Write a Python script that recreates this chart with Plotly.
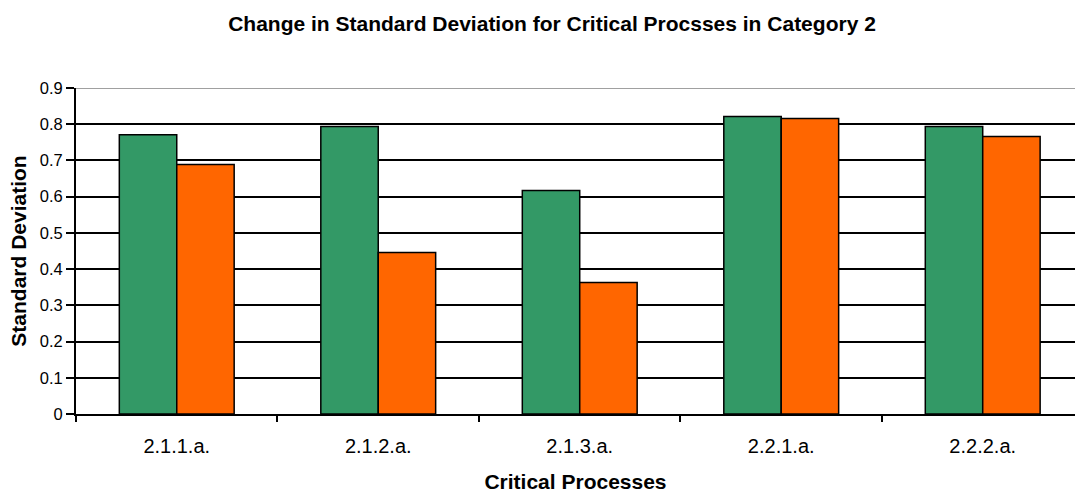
import plotly.graph_objects as go

categories = ["2.1.1.a.", "2.1.2.a.", "2.1.3.a.", "2.2.1.a.", "2.2.2.a."]
before_sd = [0.771, 0.794, 0.617, 0.821, 0.794]
after_sd = [0.689, 0.446, 0.363, 0.816, 0.766]
y_ticks = [0, 0.1, 0.2, 0.3, 0.4, 0.5, 0.6, 0.7, 0.8, 0.9]
y_tick_text = ["0", "0.1", "0.2", "0.3", "0.4", "0.5", "0.6", "0.7", "0.8", "0.9"]

FONT = "Liberation Sans, Arial, sans-serif"

fig = go.Figure()
fig.add_trace(go.Bar(
    x=categories, y=before_sd, name="Before",
    marker=dict(color="#339966", line=dict(color="black", width=1.5)),
))
fig.add_trace(go.Bar(
    x=categories, y=after_sd, name="After",
    marker=dict(color="#FF6600", line=dict(color="black", width=1.5)),
))

# top border of the plot area in grey
fig.add_shape(type="line", xref="paper", yref="y", x0=0, x1=1, y0=0.9, y1=0.9,
              line=dict(color="#808080", width=1.5), layer="above")

fig.update_layout(
    width=1075, height=493,
    margin=dict(l=76, r=0, t=88, b=79),
    paper_bgcolor="white", plot_bgcolor="white",
    barmode="group", bargap=0.43, bargroupgap=0,
    showlegend=False,
    font=dict(family=FONT, color="black"),
    title=dict(
        text="<b>Change in Standard Deviation for Critical Procsses in Category 2</b>",
        x=552 / 1075, xanchor="center", y=1 - 24 / 493, yanchor="middle",
        font=dict(size=21, family=FONT, color="black"),
    ),
    xaxis=dict(
        range=[-0.5, 4.458],
        showline=True, linecolor="black", linewidth=2,
        ticks="outside", tickson="boundaries", ticklen=6, tickwidth=2, tickcolor="black",
        tickfont=dict(size=20, family=FONT), ticklabelstandoff=13,
        showgrid=False,
        title=dict(text="<b>Critical Processes</b>", font=dict(size=21, family=FONT), standoff=21),
    ),
    yaxis=dict(
        range=[0, 0.9],
        tickvals=y_ticks, ticktext=y_tick_text,
        showline=True, linecolor="black", linewidth=2,
        ticks="outside", ticklen=8, tickwidth=1.5, tickcolor="black",
        tickfont=dict(size=16.5, family=FONT),
        showgrid=True, gridcolor="black", gridwidth=1.5,
        zeroline=False,
        title=dict(text="<b>Standard Deviation</b>", font=dict(size=21, family=FONT), standoff=7),
    ),
)

fig.write_html("out.html")
